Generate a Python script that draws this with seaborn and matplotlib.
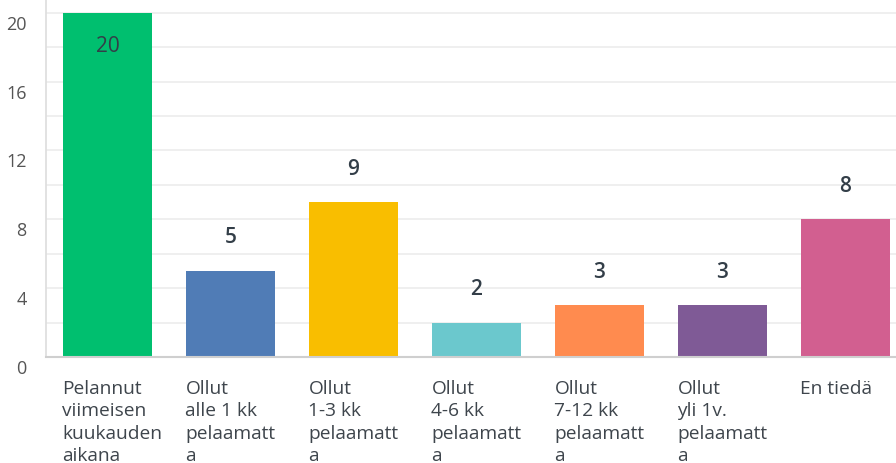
import matplotlib
matplotlib.use("Agg")
import matplotlib.pyplot as plt
import seaborn as sns
import pandas as pd
from matplotlib.transforms import ScaledTranslation

categories = ["Pelannut viimeisen kuukauden aikana", "Ollut alle 1 kk pelaamatta",
              "Ollut 1-3 kk pelaamatta", "Ollut 4-6 kk pelaamatta",
              "Ollut 7-12 kk pelaamatta", "Ollut yli 1v. pelaamatta", "En tiedä"]
tick_labels = ["Pelannut\nviimeisen\nkuukauden\naikana",
               "Ollut\nalle 1 kk\npelaamatt\na",
               "Ollut\n1-3 kk\npelaamatt\na",
               "Ollut\n4-6 kk\npelaamatt\na",
               "Ollut\n7-12 kk\npelaamatt\na",
               "Ollut\nyli 1v.\npelaamatt\na",
               "En tiedä"]
values = [20, 5, 9, 2, 3, 3, 8]
colors = ["#00BF6F", "#507CB6", "#F9BE00", "#6BC8CD", "#FF8B4F", "#7F5A96", "#D25F90"]
y_ticks = [0, 2, 4, 6, 8, 10, 12, 14, 16, 18, 20]

sns.set_style("white")
plt.rcParams["font.family"] = ["Open Sans", "DejaVu Sans"]

df = pd.DataFrame({"cat": categories, "val": values})

fig = plt.figure(figsize=(8.96, 4.64), dpi=100)
ax = fig.add_axes([46 / 896, 106 / 464, 861 / 896, 358 / 464])
sns.barplot(data=df, x="cat", y="val", hue="cat", palette=colors, width=0.73,
            saturation=1, legend=False, ax=ax, zorder=3, edgecolor="none")

ax.set_xlim(-0.5, 6.5)
ax.set_ylim(0, 20.8)
ax.set_yticks(y_ticks)
ax.set_yticklabels([str(t) if t % 4 == 0 else "" for t in y_ticks])
ax.grid(axis="y", color="#ececec", linewidth=1.2, zorder=0)
ax.set_xticks(range(len(categories)))
ax.set_xticklabels([])
ax.set_xlabel("")
ax.set_ylabel("")
ax.tick_params(axis="both", length=0)
ax.tick_params(axis="y", labelsize=13, labelcolor="#555555", pad=14)

for lab in ax.get_yticklabels():
    lab.set_transform(lab.get_transform() + ScaledTranslation(0, -9 / 100, fig.dpi_scale_trans))

for side in ["top", "right"]:
    ax.spines[side].set_visible(False)
ax.spines["left"].set_color("#dddddd")
ax.spines["left"].set_linewidth(1.2)
ax.spines["bottom"].set_color("#cfcfcf")
ax.spines["bottom"].set_linewidth(1.5)
ax.spines["bottom"].set_zorder(4)

for i, v in enumerate(values):
    if v >= 18:
        ax.annotate(str(v), xy=(i, v), xytext=(0, -33), textcoords="offset pixels",
                    ha="center", va="center", fontsize=15, color="#333e48", zorder=5)
    else:
        ax.annotate(str(v), xy=(i, v), xytext=(0, 34), textcoords="offset pixels",
                    ha="center", va="center", fontsize=15, fontweight="semibold",
                    color="#333e48", zorder=5)

for i, lab in enumerate(tick_labels):
    ax.annotate(lab, xy=(i - 0.366, 0), xycoords=("data", "axes fraction"),
                xytext=(0, -22), textcoords="offset pixels", ha="left", va="top",
                fontsize=13.8, color="#3e454c", linespacing=1.32, annotation_clip=False)

fig.savefig("out.png", dpi=100)
